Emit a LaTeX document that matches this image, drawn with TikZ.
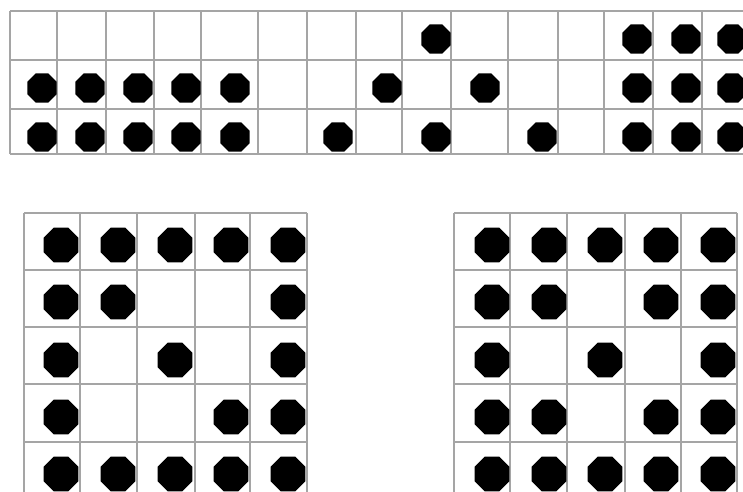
\documentclass[tikz,border=0pt]{standalone}
\usetikzlibrary{shapes.geometric}
\definecolor{gridgray}{RGB}{165,165,165}
\begin{document}
\begin{tikzpicture}[x=0.02cm, y=-0.02cm,
				cellline/.style={draw=gridgray, line width=0.85pt},
				dot/.style={regular polygon, regular polygon sides=8, fill=black, inner sep=0pt, minimum size=18.1pt},
				bigdot/.style={regular polygon, regular polygon sides=8, fill=black, inner sep=0pt, minimum size=21.5pt},
			]
			\useasboundingbox (0,0) rectangle (743,492);
			\clip (0,0) rectangle (743,492);

			% top strip, three rows
			\foreach \y in {11,60,109,154} \draw[cellline] (10,\y) -- (743,\y);
			\foreach \x in {10,57,106,154,201,258,307,356,402,451,508,558,604,653,702} \draw[cellline] (\x,11) -- (\x,154);

			% top row
			\node[dot] (t19) at (436,39) {};
			\node[dot] (t111) at (637,39) {}; \node[dot] (t112) at (686,39) {}; \node[dot] (t113) at (732,39) {};

			% middle row
			\node[dot] (t21) at (42,88) {};  \node[dot] (t22) at (90,88) {};  \node[dot] (t23) at (138,88) {};
			\node[dot] (t24) at (186,88) {}; \node[dot] (t25) at (235,88) {};
			\node[dot] (t28) at (387,88) {}; \node[dot] (t210) at (485,88) {};
			\node[dot] (t211) at (637,88) {}; \node[dot] (t212) at (686,88) {}; \node[dot] (t213) at (732,88) {};

			% bottom row
			\node[dot] (t31) at (42,137) {};  \node[dot] (t32) at (90,137) {};  \node[dot] (t33) at (138,137) {};
			\node[dot] (t34) at (186,137) {}; \node[dot] (t35) at (235,137) {};
			\node[dot] (t37) at (338,137) {}; \node[dot] (t39) at (436,137) {}; \node[dot] (t310) at (542,137) {};
			\node[dot] (t311) at (637,137) {}; \node[dot] (t312) at (686,137) {}; \node[dot] (t313) at (732,137) {};

			% left square
			\foreach \y in {213,270,327,384,442} \draw[cellline] (24,\y) -- (307,\y);
			\foreach \x in {24,80,137,195,250,307} \draw[cellline] (\x,213) -- (\x,492);

			\node[bigdot] (l11) at (61,245) {};  \node[bigdot] (l12) at (118,245) {}; \node[bigdot] (l13) at (175,245) {};
			\node[bigdot] (l14) at (231,245) {}; \node[bigdot] (l15) at (288,245) {};
			\node[bigdot] (l21) at (61,302) {};  \node[bigdot] (l22) at (118,302) {}; \node[bigdot] (l25) at (288,302) {};
			\node[bigdot] (l31) at (61,360) {};  \node[bigdot] (l33) at (175,360) {}; \node[bigdot] (l35) at (288,360) {};
			\node[bigdot] (l41) at (61,417) {};  \node[bigdot] (l44) at (231,417) {}; \node[bigdot] (l45) at (288,417) {};
			\node[bigdot] (l51) at (61,474) {};  \node[bigdot] (l52) at (118,474) {}; \node[bigdot] (l53) at (175,474) {};
			\node[bigdot] (l54) at (231,474) {}; \node[bigdot] (l55) at (288,474) {};

			% right square
			\foreach \y in {213,270,327,384,442} \draw[cellline] (454,\y) -- (737,\y);
			\foreach \x in {454,510,567,625,681,737} \draw[cellline] (\x,213) -- (\x,492);

			\node[bigdot] (r11) at (492,245) {}; \node[bigdot] (r12) at (549,245) {}; \node[bigdot] (r13) at (605,245) {};
			\node[bigdot] (r14) at (661,245) {}; \node[bigdot] (r15) at (718,245) {};
			\node[bigdot] (r21) at (492,302) {}; \node[bigdot] (r22) at (549,302) {};
			\node[bigdot] (r24) at (661,302) {}; \node[bigdot] (r25) at (718,302) {};
			\node[bigdot] (r31) at (492,360) {}; \node[bigdot] (r33) at (605,360) {}; \node[bigdot] (r35) at (718,360) {};
			\node[bigdot] (r41) at (492,417) {}; \node[bigdot] (r42) at (549,417) {};
			\node[bigdot] (r44) at (661,417) {}; \node[bigdot] (r45) at (718,417) {};
			\node[bigdot] (r51) at (492,474) {}; \node[bigdot] (r52) at (549,474) {}; \node[bigdot] (r53) at (605,474) {};
			\node[bigdot] (r54) at (661,474) {}; \node[bigdot] (r55) at (718,474) {};
		\end{tikzpicture}
\end{document}
